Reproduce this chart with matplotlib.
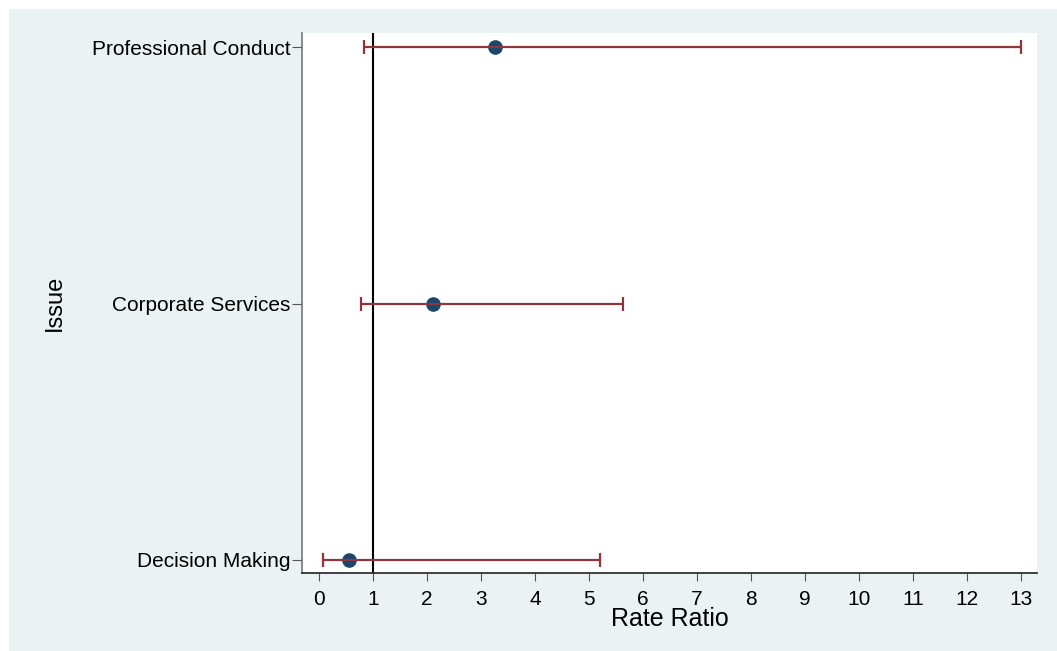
import matplotlib.pyplot as plt
from matplotlib.patches import Rectangle

plt.rcParams['font.family'] = ['Liberation Sans', 'DejaVu Sans']

# data
issues = ['Decision Making', 'Corporate Services', 'Professional Conduct']
rate_ratio = [0.55, 2.10, 3.25]
ci_low = [0.06, 0.77, 0.82]
ci_high = [5.20, 5.62, 13.0]
xticks = list(range(0, 14))

fig = plt.figure(figsize=(10.57, 6.51), dpi=100, facecolor='white')
# stata style light panel behind everything
fig.patches.append(Rectangle((9 / 1057, 0), 1, (651 - 9) / 651, transform=fig.transFigure,
                             facecolor='#eaf2f3', edgecolor='none', zorder=-10))

ax = fig.add_axes([302 / 1057, 78 / 651, 735 / 1057, 540 / 651])
ax.set_facecolor('white')

ypos = list(range(1, len(issues) + 1))
ax.plot(rate_ratio, ypos, 'o', color='#1a476f', markersize=9.5, zorder=3)
err_lo = [r - l for r, l in zip(rate_ratio, ci_low)]
err_hi = [h - r for r, h in zip(rate_ratio, ci_high)]
ax.errorbar(rate_ratio, ypos, xerr=[err_lo, err_hi], fmt='none', ecolor='#90353b',
            elinewidth=1.6, capsize=5, capthick=1.6, zorder=4)
ax.axvline(1, color='black', linewidth=1.5, zorder=2)

ax.set_xlim(-0.32, 13.3)
ax.set_ylim(0.949, 3.055)
ax.set_xticks(xticks)
ax.set_yticks(ypos)
ax.set_yticklabels(issues)

for s in ['top', 'right']:
    ax.spines[s].set_visible(False)
ax.spines['left'].set_color('#777777')
ax.spines['bottom'].set_color('#222222')
ax.spines['left'].set_linewidth(1.2)
ax.spines['bottom'].set_linewidth(1.2)

ax.tick_params(axis='y', length=7, pad=1.5, labelsize=15, color='#555555')
ax.tick_params(axis='x', length=6, pad=6, labelsize=15, color='#555555')

ax.set_xlabel('Rate Ratio', fontsize=18)
ax.xaxis.set_label_coords(0.5, -0.085)
ax.xaxis.label.set_va('center')
ax.set_ylabel('Issue', fontsize=17)
ax.yaxis.set_label_coords(-0.336, 0.5)
ax.yaxis.label.set_va('center')

plt.savefig('out.png', dpi=100, facecolor='white')
